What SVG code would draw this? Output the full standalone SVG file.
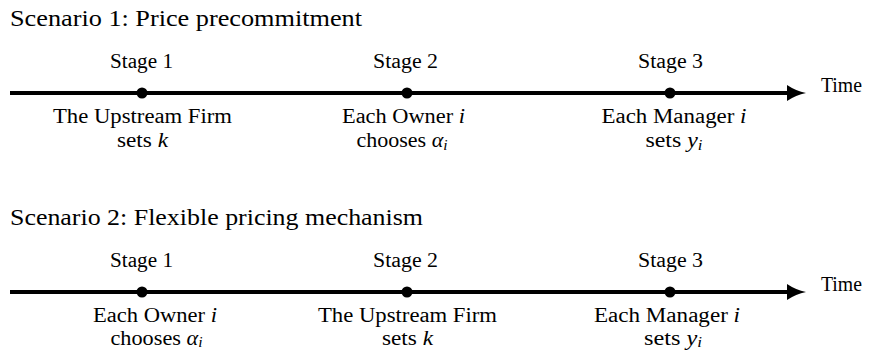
<svg xmlns="http://www.w3.org/2000/svg" width="869" height="350" viewBox="0 0 869 350">
<style>
.t{font-size:24px}
.l{font-size:20px;text-anchor:middle}
.time{font-size:20px}
.it{font-style:italic}
.sub{font-size:14px;font-style:italic}
.axis{stroke:#000;stroke-width:4;fill:none}
.dot{fill:#000}
.head{fill:#000}
</style>
<defs>
<path id="arrowhead" d="M -19 -8 Q -10 -2 0 0 Q -10 2 -19 8 Z"/>
</defs>
<rect width="869" height="350" fill="#fff"/>
<g font-family="Liberation Serif, DejaVu Serif, serif" fill="#000">
<!-- Scenario 1 -->
<g id="title1"><text class="t" x="10" y="26" textLength="352" lengthAdjust="spacingAndGlyphs">Scenario 1: Price precommitment</text></g>
<g id="connectors1">
<line class="axis" x1="10" y1="93" x2="792" y2="93"/>
<use href="#arrowhead" class="head" x="806" y="93"/>
</g>
<g id="s1-stage1">
<text class="l" x="141.5" y="68" textLength="63" lengthAdjust="spacingAndGlyphs">Stage 1</text>
<circle class="dot" cx="142" cy="93" r="5.5"/>
<text class="l" x="142.5" y="122.5" textLength="179" lengthAdjust="spacingAndGlyphs">The Upstream Firm</text>
<text class="l" x="142.5" y="147" textLength="51" lengthAdjust="spacingAndGlyphs">sets <tspan class="it">k</tspan></text>
</g>
<g id="s1-stage2">
<text class="l" x="405.5" y="68" textLength="65" lengthAdjust="spacingAndGlyphs">Stage 2</text>
<circle class="dot" cx="407" cy="93" r="5.5"/>
<text class="l" x="403.5" y="122.5" textLength="123" lengthAdjust="spacingAndGlyphs">Each Owner <tspan class="it">i</tspan></text>
<text class="l" x="402" y="147" textLength="91" lengthAdjust="spacingAndGlyphs">chooses <tspan class="it">α</tspan><tspan class="sub" dy="2.5">i</tspan></text>
</g>
<g id="s1-stage3">
<text class="l" x="670.5" y="68" textLength="65" lengthAdjust="spacingAndGlyphs">Stage 3</text>
<circle class="dot" cx="670" cy="93" r="5.5"/>
<text class="l" x="674" y="122.5" textLength="145" lengthAdjust="spacingAndGlyphs">Each Manager <tspan class="it">i</tspan></text>
<text class="l" x="674" y="147" textLength="57" lengthAdjust="spacingAndGlyphs">sets <tspan class="it">y</tspan><tspan class="sub" dy="2.5">i</tspan></text>
</g>
<g id="time1"><text class="time" x="821" y="92" textLength="41" lengthAdjust="spacingAndGlyphs">Time</text></g>

<!-- Scenario 2 -->
<g id="title2"><text class="t" x="10" y="225" textLength="413" lengthAdjust="spacingAndGlyphs">Scenario 2: Flexible pricing mechanism</text></g>
<g id="connectors2">
<line class="axis" x1="10" y1="292" x2="792" y2="292"/>
<use href="#arrowhead" class="head" x="806" y="292"/>
</g>
<g id="s2-stage1">
<text class="l" x="141.5" y="267" textLength="63" lengthAdjust="spacingAndGlyphs">Stage 1</text>
<circle class="dot" cx="142" cy="292" r="5.5"/>
<text class="l" x="155" y="321.5" textLength="124" lengthAdjust="spacingAndGlyphs">Each Owner <tspan class="it">i</tspan></text>
<text class="l" x="156.5" y="345" textLength="92" lengthAdjust="spacingAndGlyphs">chooses <tspan class="it">α</tspan><tspan class="sub" dy="2">i</tspan></text>
</g>
<g id="s2-stage2">
<text class="l" x="405.5" y="267" textLength="65" lengthAdjust="spacingAndGlyphs">Stage 2</text>
<circle class="dot" cx="407" cy="292" r="5.5"/>
<text class="l" x="407.5" y="321.5" textLength="179" lengthAdjust="spacingAndGlyphs">The Upstream Firm</text>
<text class="l" x="407.5" y="345" textLength="51" lengthAdjust="spacingAndGlyphs">sets <tspan class="it">k</tspan></text>
</g>
<g id="s2-stage3">
<text class="l" x="670.5" y="267" textLength="65" lengthAdjust="spacingAndGlyphs">Stage 3</text>
<circle class="dot" cx="670" cy="292" r="5.5"/>
<text class="l" x="667" y="321.5" textLength="146" lengthAdjust="spacingAndGlyphs">Each Manager <tspan class="it">i</tspan></text>
<text class="l" x="673" y="345" textLength="58" lengthAdjust="spacingAndGlyphs">sets <tspan class="it">y</tspan><tspan class="sub" dy="2">i</tspan></text>
</g>
<g id="time2"><text class="time" x="821" y="291" textLength="41" lengthAdjust="spacingAndGlyphs">Time</text></g>
</g>
</svg>
